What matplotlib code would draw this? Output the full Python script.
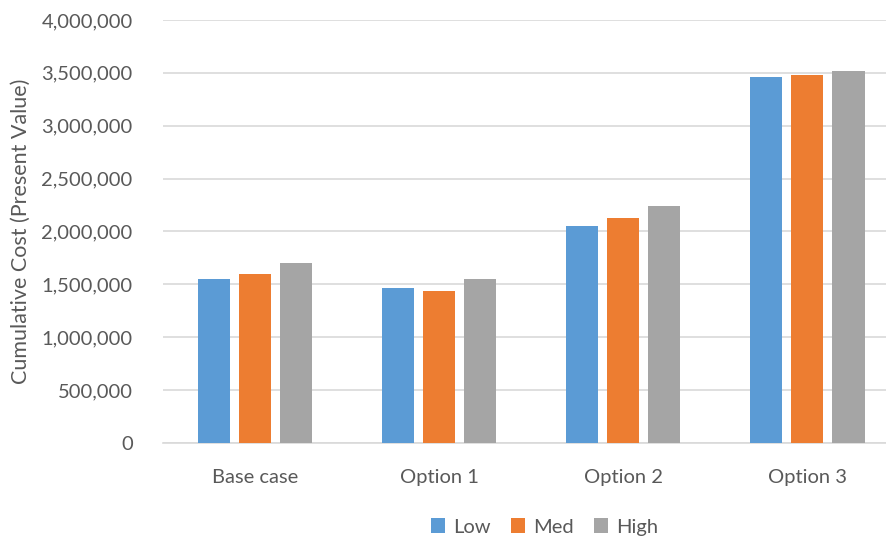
import numpy as np
import matplotlib.pyplot as plt
from matplotlib.ticker import FuncFormatter

categories = ['Base case', 'Option 1', 'Option 2', 'Option 3']
series = ['Low', 'Med', 'High']
low = [1550000, 1465000, 2054000, 3462000]
med = [1595000, 1434000, 2123000, 3478000]
high = [1701000, 1547000, 2239000, 3522000]
colors = ['#5B9BD5', '#ED7D31', '#A5A5A5']

plt.rcParams['font.family'] = ['Lato', 'DejaVu Sans']
text_color = '#595959'
grid_color = '#D9D9D9'

fig = plt.figure(figsize=(8.87, 5.4), dpi=100)
# plot area runs slightly past the right edge, as in the original
ax = fig.add_axes([0.184, 0.180, 0.83, 0.783])

x = np.arange(len(categories))
width = 0.175
step = 0.223
for i, (vals, name) in enumerate(zip([low, med, high], series)):
    ax.bar(x + (i - 1) * step, vals, width, color=colors[i], label=name, zorder=3)

ax.set_xlim(-0.5, len(categories) - 0.5)
ax.set_ylim(0, 4000000)
ax.set_yticks(np.arange(0, 4000001, 500000))
ax.yaxis.set_major_formatter(FuncFormatter(lambda v, p: f'{int(v):,}'))
ax.set_xticks(x)
ax.set_xticklabels(categories)

ax.grid(axis='y', color=grid_color, linewidth=1.2, zorder=0)
for s in ['top', 'right', 'left']:
    ax.spines[s].set_visible(False)
ax.spines['bottom'].set_color(grid_color)
ax.spines['bottom'].set_linewidth(1.2)
ax.tick_params(axis='both', length=0, labelsize=14.5, colors=text_color)
ax.tick_params(axis='y', pad=22)
ax.tick_params(axis='x', pad=19)

ax.set_ylabel('Cumulative Cost (Present Value)', fontsize=15.5, color=text_color)
ax.yaxis.set_label_coords(-0.18, 0.5)

ax.legend(loc='center', bbox_to_anchor=(0.614, 0.024), bbox_transform=fig.transFigure,
          ncol=3, frameon=False, fontsize=14.5, labelcolor=text_color,
          handlelength=0.7, handleheight=0.7, handletextpad=0.4, columnspacing=1.0)

fig.savefig('out.png', dpi=100)
